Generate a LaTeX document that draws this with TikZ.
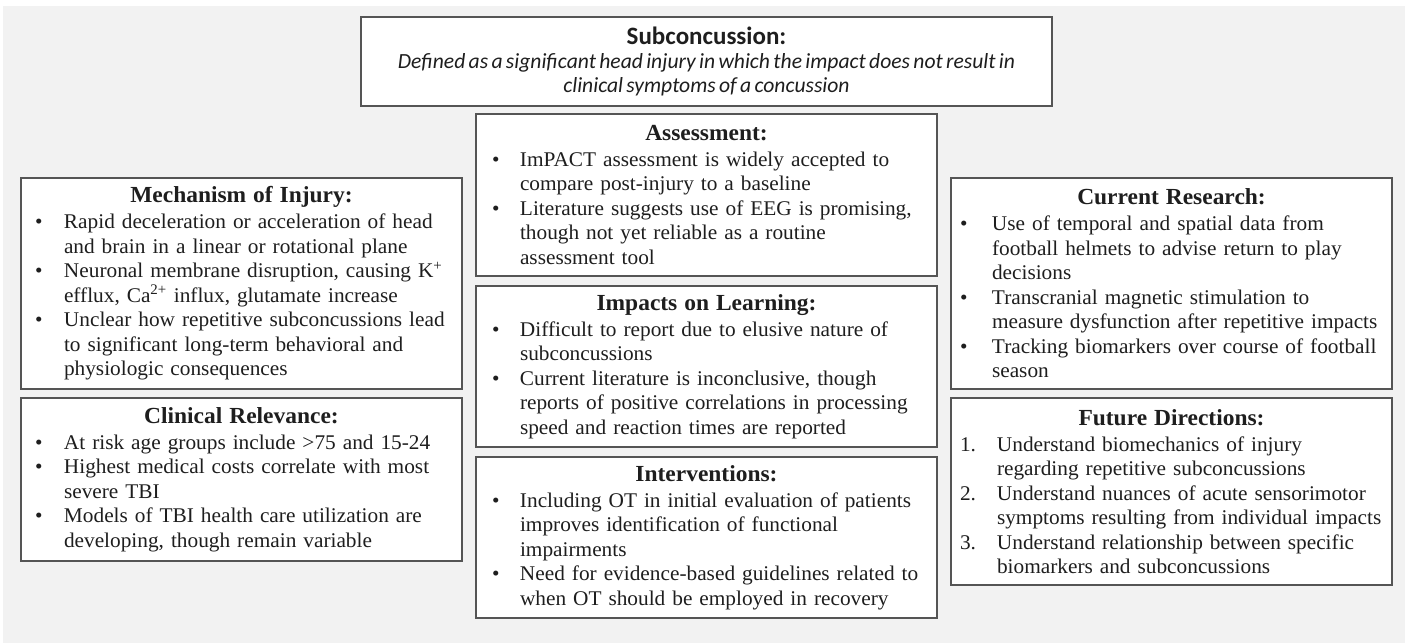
\documentclass[tikz,border=0pt]{standalone}
\usepackage{fontspec}
\setmainfont{Liberation Serif}[FakeStretch=1.02]
\newfontfamily\calfont{Carlito}
\usetikzlibrary{positioning}

\definecolor{framegray}{HTML}{555555}
\definecolor{bggray}{HTML}{F2F2F2}
\definecolor{inkgray}{HTML}{1E1E1E}

\newlength{\bulind}
\newlength{\txtind}
\newcommand{\indents}[2]{\setlength{\bulind}{#1}\setlength{\txtind}{#2}}
\newcommand{\keypoint}[2]{\par\hangindent=\txtind\hangafter=1\noindent\makebox[\txtind][l]{\hspace{\bulind}#1}#2\par}
\newcommand{\paneltitle}[1]{{\centering\fontsize{23}{24.5}\selectfont\bfseries #1\par}\vspace{1.5pt}}

\begin{document}
\begin{tikzpicture}
		[x=1pt, y=-1pt,
		panel/.style={draw=framegray, line width=1.5pt, fill=white, inner xsep=0pt,
			inner ysep=0pt, outer sep=0pt, align=left, text=inkgray,
			font=\fontsize{20.9}{24.5}\selectfont},
		sidepanel/.style={panel, text width=441pt},
		midpanel/.style={panel, text width=461pt},
		node distance=9pt]
		\useasboundingbox (0,0) rectangle (1405,643);
		\fill[bggray] (3,6) rectangle (1405,643);

		% top definition
		\node[panel, text width=691pt, minimum height=89pt, align=center, font=\calfont] (def) at (706.5,61.5)
			{{\fontsize{25}{26}\selectfont\bfseries Subconcussion:\par}
			{\itshape\fontsize{21.6}{24}\selectfont Defined as a significant head injury in which the impact does not result in\\
			clinical symptoms of a concussion\par}};

		% middle column
		\node[midpanel, minimum height=162pt, below=8pt of def] (assess)
			{\indents{16pt}{44pt}\paneltitle{Assessment:}
			\keypoint{\textbullet}{ImPACT assessment is widely accepted to\newline compare post-injury to a baseline}
			\keypoint{\textbullet}{Literature suggests use of EEG is promising,\newline though not yet reliable as a routine\newline assessment tool}};
		\node[midpanel, minimum height=161pt, below=10pt of assess] (learning)
			{\indents{16pt}{44pt}\paneltitle{Impacts on Learning:}
			\keypoint{\textbullet}{Difficult to report due to elusive nature of\newline subconcussions}
			\keypoint{\textbullet}{Current literature is inconclusive, though\newline reports of positive correlations in processing\newline speed and reaction times are reported}};
		\node[midpanel, minimum height=161pt, below=10pt of learning] (interv)
			{\indents{16pt}{44pt}\paneltitle{Interventions:}
			\keypoint{\textbullet}{Including OT in initial evaluation of patients\newline improves identification of functional\newline impairments}
			\keypoint{\textbullet}{Need for evidence-based guidelines related to\newline when OT should be employed in recovery}};

		% left column
		\node[sidepanel, minimum height=211pt] (mech) at (241.5,283.5)
			{\indents{14pt}{43pt}\paneltitle{Mechanism of Injury:}
			\keypoint{\textbullet}{Rapid deceleration or acceleration of head\newline and brain in a linear or rotational plane}
			\keypoint{\textbullet}{Neuronal membrane disruption, causing K\textsuperscript{+}\newline efflux, Ca\textsuperscript{2+} influx, glutamate increase}
			\keypoint{\textbullet}{Unclear how repetitive subconcussions lead\newline to significant long-term behavioral and\newline physiologic consequences}};
		\node[sidepanel, minimum height=163pt, below=of mech] (clinical)
			{\indents{14pt}{43pt}\paneltitle{Clinical Relevance:}
			\keypoint{\textbullet}{At risk age groups include >75 and 15-24}
			\keypoint{\textbullet}{Highest medical costs correlate with most\newline severe TBI}
			\keypoint{\textbullet}{Models of TBI health care utilization are\newline developing, though remain variable}};

		% right column
		\node[sidepanel, minimum height=211pt] (research) at (1171.5,283.5)
			{\indents{9pt}{41pt}\paneltitle{Current Research:}
			\keypoint{\textbullet}{Use of temporal and spatial data from\newline football helmets to advise return to play\newline decisions}
			\keypoint{\textbullet}{Transcranial magnetic stimulation to\newline measure dysfunction after repetitive impacts}
			\keypoint{\textbullet}{Tracking biomarkers over course of football\newline season}};
		\node[sidepanel, minimum height=187pt, below=of research] (future)
			{\indents{9pt}{46pt}\paneltitle{Future Directions:}
			\keypoint{1.}{Understand biomechanics of injury\newline regarding repetitive subconcussions}
			\keypoint{2.}{Understand nuances of acute sensorimotor\newline symptoms resulting from individual impacts}
			\keypoint{3.}{Understand relationship between specific\newline biomarkers and subconcussions}};
	\end{tikzpicture}
\end{document}
